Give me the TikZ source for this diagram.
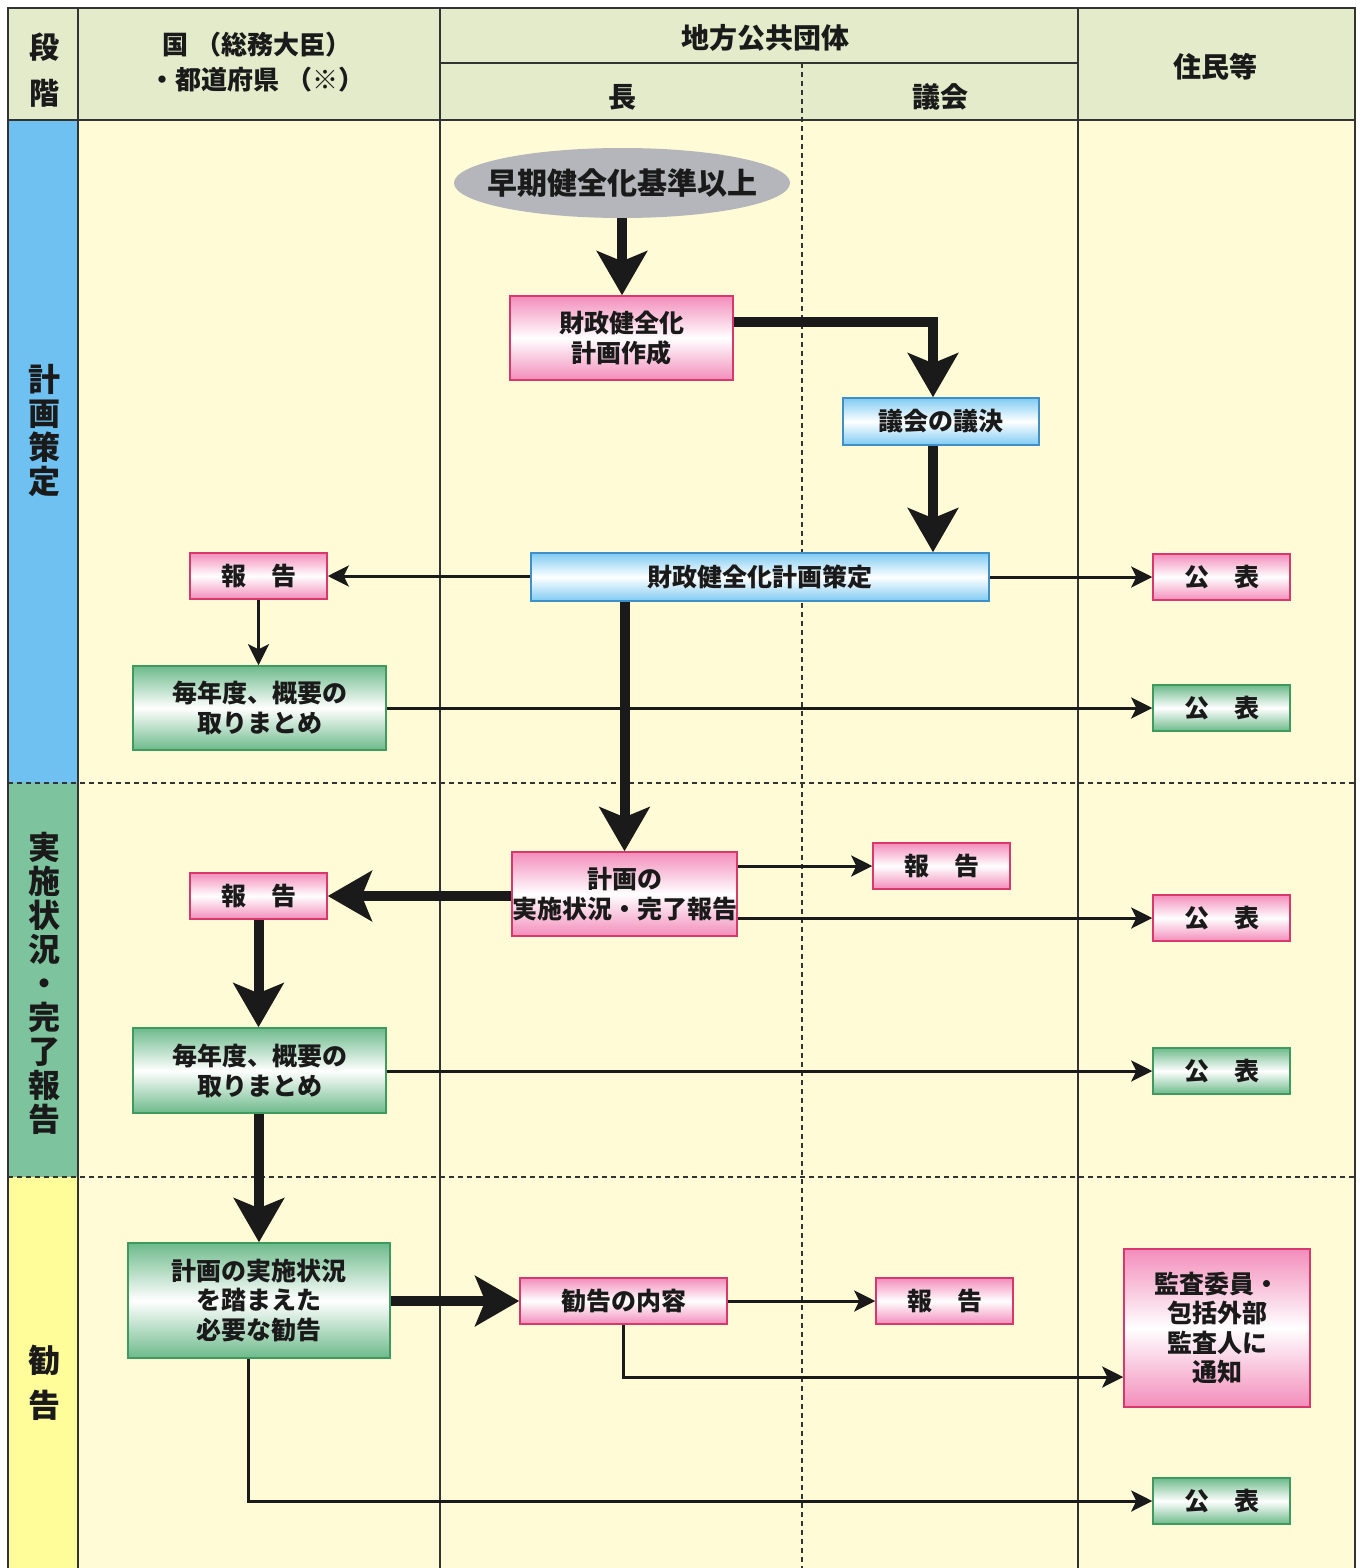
\documentclass[tikz,border=0pt]{standalone}
\usepackage{fontspec}
\setmainfont{Noto Sans CJK JP}
\usetikzlibrary{arrows.meta,shapes.geometric}
\definecolor{hdr}{HTML}{E3EBCB}
\definecolor{body}{HTML}{FFFBD6}
\definecolor{stgblue}{HTML}{6EC1F0}
\definecolor{stggreen}{HTML}{7DC39E}
\definecolor{stgyellow}{HTML}{FFFD9A}
\definecolor{ellgray}{HTML}{B5B6BB}
\definecolor{pinkfill}{HTML}{F38DBB}
\definecolor{pinkedge}{HTML}{D9386E}
\definecolor{bluefill}{HTML}{7FCBF2}
\definecolor{blueedge}{HTML}{3F8FC9}
\definecolor{greenfill}{HTML}{6DBA8B}
\definecolor{greenedge}{HTML}{3E9A5E}
\definecolor{ink}{HTML}{1A1A1A}
\definecolor{gridline}{HTML}{333333}
\tikzset{
  boxtext/.style={font=\fontsize{25}{30}\selectfont\bfseries, text=ink, align=center, inner sep=0pt},
  pinkbox/.style={boxtext, draw=pinkedge, line width=1.5pt, top color=pinkfill, bottom color=pinkfill, middle color=white},
  bluebox/.style={boxtext, draw=blueedge, line width=1.5pt, top color=bluefill, bottom color=bluefill, middle color=white},
  greenbox/.style={boxtext, draw=greenedge, line width=1.5pt, top color=greenfill, bottom color=greenfill, middle color=white},
  smallbox/.style={minimum width=137pt, minimum height=46pt},
  hdrtext/.style={font=\fontsize{26}{35}\selectfont\bfseries, text=ink, align=center, inner sep=0pt},
  stagetext/.style={font=\fontsize{32}{34}\selectfont\bfseries, text=ink, align=center, inner sep=0pt},
  frameline/.style={draw=gridline, line width=2pt},
  dashline/.style={draw=gridline, line width=1.5pt, dash pattern=on 5pt off 4pt},
  thickarrow/.style={draw=ink, line width=10pt, -{Stealth[length=44pt,width=50pt,inset=10pt]}},
  thinarrow/.style={draw=ink, line width=3pt, -{Stealth[length=21pt,width=21pt,inset=5pt]}},
}
\begin{document}
\begin{tikzpicture}[x=1pt,y=-1pt]
\useasboundingbox (0,0) rectangle (1361,1568);
% backgrounds
\fill[white] (0,0) rectangle (1361,1568);
\fill[body] (8,120) rectangle (1355,1568);
\fill[hdr] (8,8) rectangle (1355,120);
\fill[stgblue] (8,120) rectangle (78,783);
\fill[stggreen] (8,783) rectangle (78,1177);
\fill[stgyellow] (8,1177) rectangle (78,1568);
% grid
\draw[dashline] (802,63) -- (802,1568);
\draw[dashline] (8,783) -- (1355,783);
\draw[dashline] (8,1177) -- (1355,1177);
\draw[frameline] (8,1568) -- (8,8) -- (1355,8) -- (1355,1568);
\draw[frameline] (78,8) -- (78,1568);
\draw[frameline] (440,8) -- (440,1568);
\draw[frameline] (1078,8) -- (1078,1568);
\draw[frameline] (8,120) -- (1355,120);
\draw[frameline] (440,63) -- (1078,63);
% header texts
\node[hdrtext, font=\fontsize{30}{46}\selectfont\bfseries] (hstage) at (44,70) {段\\階};
\node[hdrtext] (hkuni) at (257,62) {国\hspace{8pt}（総務大臣）\\・都道府県\hspace{8pt}（※）};
\node[hdrtext, font=\fontsize{28}{35}\selectfont\bfseries] (hchiho) at (765,38) {地方公共団体};
\node[hdrtext, font=\fontsize{28}{35}\selectfont\bfseries] (hcho) at (622,97) {長};
\node[hdrtext, font=\fontsize{28}{35}\selectfont\bfseries] (hgikai) at (940,97) {議会};
\node[hdrtext, font=\fontsize{28}{35}\selectfont\bfseries] (hjumin) at (1215,67) {住民等};
% stage labels
\node[stagetext] (st1) at (44,431) {計\\画\\策\\定};
\node[stagetext] (st2) at (44,983) {実\\施\\状\\況\\・\\完\\了\\報\\告};
\node[stagetext, font=\fontsize{32}{45}\selectfont\bfseries] (st3) at (44,1383) {勧\\告};
% nodes
\node[ellipse, fill=ellgray, minimum width=336pt, minimum height=70pt, boxtext, inner xsep=-40pt, font=\fontsize{30}{34}\selectfont\bfseries] (kijun) at (622,183) {早期健全化基準以上};
\node[pinkbox, minimum width=223pt, minimum height=84pt] (sakusei) at (621.5,338) {財政健全化\\計画作成};
\node[bluebox, minimum width=196pt, minimum height=47pt] (giketsu) at (941,421.5) {議会の議決};
\node[bluebox, minimum width=458pt, minimum height=48pt] (sakutei) at (760,577) {財政健全化計画策定};
\node[pinkbox, smallbox] (hok1) at (258.5,576) {報　告};
\node[pinkbox, smallbox] (koh1) at (1221.5,577) {公　表};
\node[greenbox, minimum width=253pt, minimum height=84pt] (mai1) at (259.5,708) {毎年度、概要の\\取りまとめ};
\node[greenbox, smallbox] (koh2) at (1221.5,708) {公　表};
\node[pinkbox, minimum width=223pt, minimum height=84pt] (jisshi) at (624.5,894) {計画の\\実施状況・完了報告};
\node[pinkbox, smallbox] (hok2) at (941.5,866) {報　告};
\node[pinkbox, smallbox] (koh3) at (1221.5,918) {公　表};
\node[pinkbox, smallbox] (hok3) at (258.5,896) {報　告};
\node[greenbox, minimum width=253pt, minimum height=85pt] (mai2) at (259.5,1070.5) {毎年度、概要の\\取りまとめ};
\node[greenbox, smallbox] (koh4) at (1221.5,1071) {公　表};
\node[greenbox, minimum width=262pt, minimum height=115pt, font=\fontsize{25}{29.5}\selectfont\bfseries] (kankoku) at (259,1300.5) {計画の実施状況\\を踏まえた\\必要な勧告};
\node[pinkbox, minimum width=207pt, minimum height=46pt] (naiyo) at (623.5,1301) {勧告の内容};
\node[pinkbox, smallbox] (hok4) at (944.5,1301) {報　告};
\node[pinkbox, minimum width=186pt, minimum height=158pt, font=\fontsize{25}{29.5}\selectfont\bfseries] (kansa) at (1217,1328) {監査委員・\\包括外部\\監査人に\\通知};
\node[greenbox, smallbox] (koh5) at (1221.5,1501) {公　表};
% arrows
\draw[thickarrow] (kijun.south) -- (kijun.south |- sakusei.north);
\draw[thickarrow] ([yshift=16pt]sakusei.east) -| ([xshift=-8pt]giketsu.north);
\draw[thickarrow] ([xshift=-8pt]giketsu.south) -- ([xshift=-8pt]giketsu.south |- sakutei.north);
\draw[thinarrow] (sakutei.west |- hok1.east) -- (hok1.east);
\draw[thinarrow] (sakutei.east) -- (koh1.west);
\draw[thinarrow] (hok1.south) -- (hok1.south |- mai1.north);
\draw[thinarrow] (mai1.east |- koh2.west) -- (koh2.west);
\draw[thickarrow] (sakutei.south -| jisshi.north) -- (jisshi.north);
\draw[thickarrow] (jisshi.west |- hok3.east) -- (hok3.east);
\draw[thinarrow] (jisshi.east |- hok2.west) -- (hok2.west);
\draw[thinarrow] (jisshi.east |- koh3.west) -- (koh3.west);
\draw[thickarrow] (hok3.south) -- (hok3.south |- mai2.north);
\draw[thinarrow] (mai2.east |- koh4.west) -- (koh4.west);
\draw[thickarrow] (mai2.south -| kankoku.north) -- (kankoku.north);
\draw[thickarrow] (kankoku.east |- naiyo.west) -- (naiyo.west);
\draw[thinarrow] (naiyo.east) -- (hok4.west);
\draw[thinarrow] (naiyo.south) |- ([yshift=-49pt]kansa.west);
\draw[thinarrow] ([xshift=-11pt]kankoku.south) |- (koh5.west);
\end{tikzpicture}
\end{document}
